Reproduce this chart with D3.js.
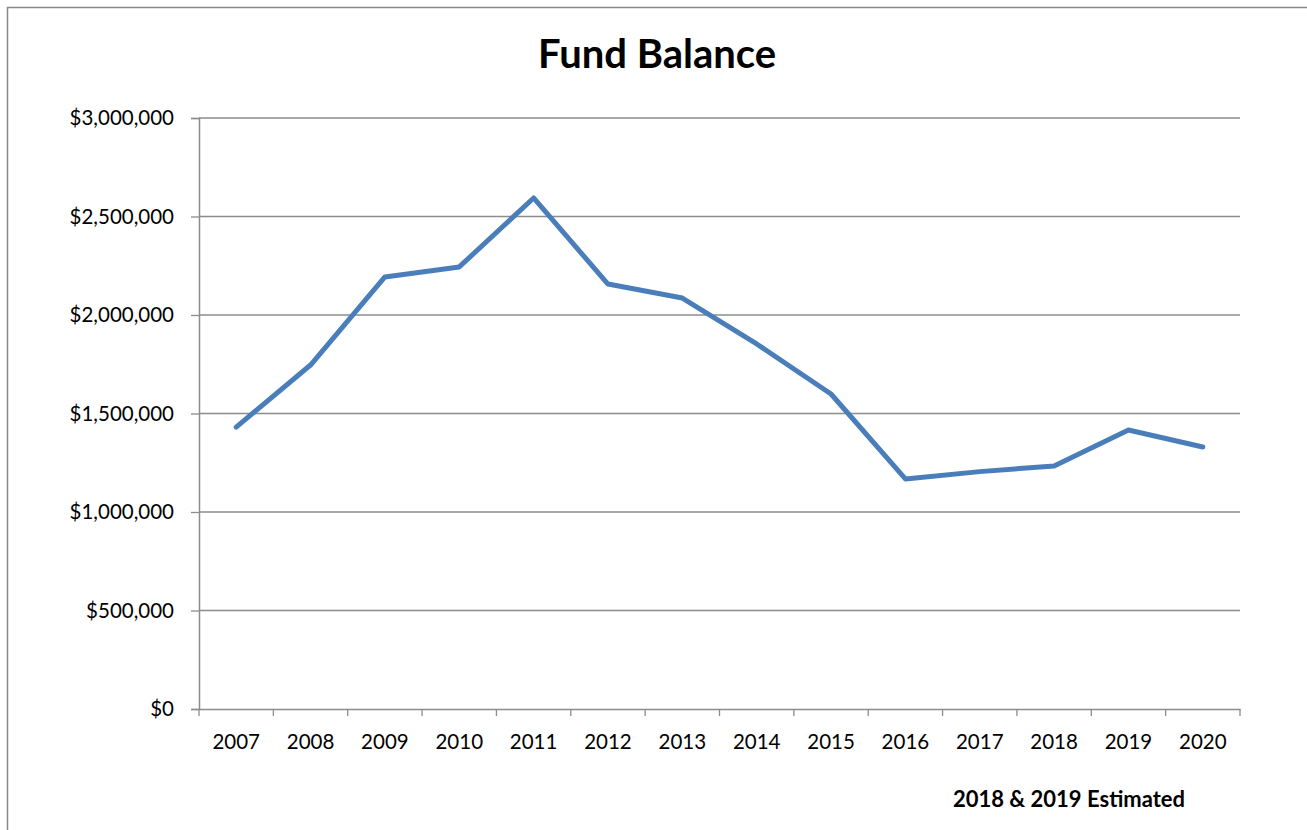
<!DOCTYPE html>
<html><head><meta charset="utf-8">
<script src="https://cdn.jsdelivr.net/npm/d3@7"></script>
<style>body{margin:0;background:#fff}svg{display:block}text{font-family:Lato,"Open Sans",sans-serif}</style>
</head><body><svg id="c" width="1307" height="830"></svg>
<script>
const years = ["2007","2008","2009","2010","2011","2012","2013","2014","2015","2016","2017","2018","2019","2020"];
const fundBalance = [1431000,1746000,2193000,2244000,2594000,2157000,2086000,1853000,1599000,1168000,1205000,1234000,1416000,1330000];
const yTicks = [0,500000,1000000,1500000,2000000,2500000,3000000];
const title = "Fund Balance";
const note = "2018 & 2019 Estimated";

const svg = d3.select("#c");
const m = {l:199, r:1240, t:118, b:709};
svg.append("rect").attr("x",7.5).attr("y",7.5).attr("width",1310).attr("height",840)
  .attr("fill","none").attr("stroke","#888").attr("stroke-width",1.5);

const x = d3.scaleBand().domain(years).range([m.l,m.r]);
const y = d3.scaleLinear().domain([0,3000000]).range([m.b,m.t]);

svg.append("g").selectAll("line").data(yTicks.slice(1)).join("line")
  .attr("x1",m.l).attr("x2",m.r).attr("y1",d=>y(d)).attr("y2",d=>y(d))
  .attr("stroke","#8c8c8c").attr("stroke-width",1.3);

const fmt = v => "$" + d3.format(",")(v);
const ya = svg.append("g").attr("transform",`translate(${m.l},0)`)
  .call(d3.axisLeft(y).tickValues(yTicks).tickFormat(fmt).tickSize(8).tickPadding(17));
ya.select(".domain").attr("stroke","#8c8c8c").attr("stroke-width",1.5);
ya.selectAll(".tick line").attr("stroke","#8c8c8c").attr("stroke-width",1.3);
ya.selectAll("text").attr("font-size",20.5).attr("fill","#000").attr("font-family","Lato");

const xa = svg.append("g").attr("transform",`translate(0,${m.b})`)
  .call(d3.axisBottom(x).tickSize(0).tickPadding(25));
xa.select(".domain").attr("stroke","#8c8c8c").attr("stroke-width",1.5);
xa.selectAll("text").attr("font-size",20.5).attr("fill","#000").attr("font-family","Lato");
const bounds = years.map(d=>x(d)).concat([m.r]);
svg.append("g").selectAll("line").data(bounds).join("line")
  .attr("x1",d=>d).attr("x2",d=>d).attr("y1",m.b).attr("y2",m.b+7)
  .attr("stroke","#8c8c8c").attr("stroke-width",1.3);

const line = d3.line().x((d,i)=>x(years[i])+x.bandwidth()/2).y(d=>y(d));
svg.append("path").datum(fundBalance).attr("d",line)
  .attr("fill","none").attr("stroke","#4a7ebb").attr("stroke-width",5)
  .attr("stroke-linejoin","round").attr("stroke-linecap","round");

svg.append("text").attr("x",657).attr("y",68).attr("text-anchor","middle")
  .attr("font-size",40).attr("font-weight","bold").text(title);
svg.append("text").attr("x",1069).attr("y",807).attr("text-anchor","middle")
  .attr("font-size",22).attr("font-weight","bold").text(note);
</script></body></html>
